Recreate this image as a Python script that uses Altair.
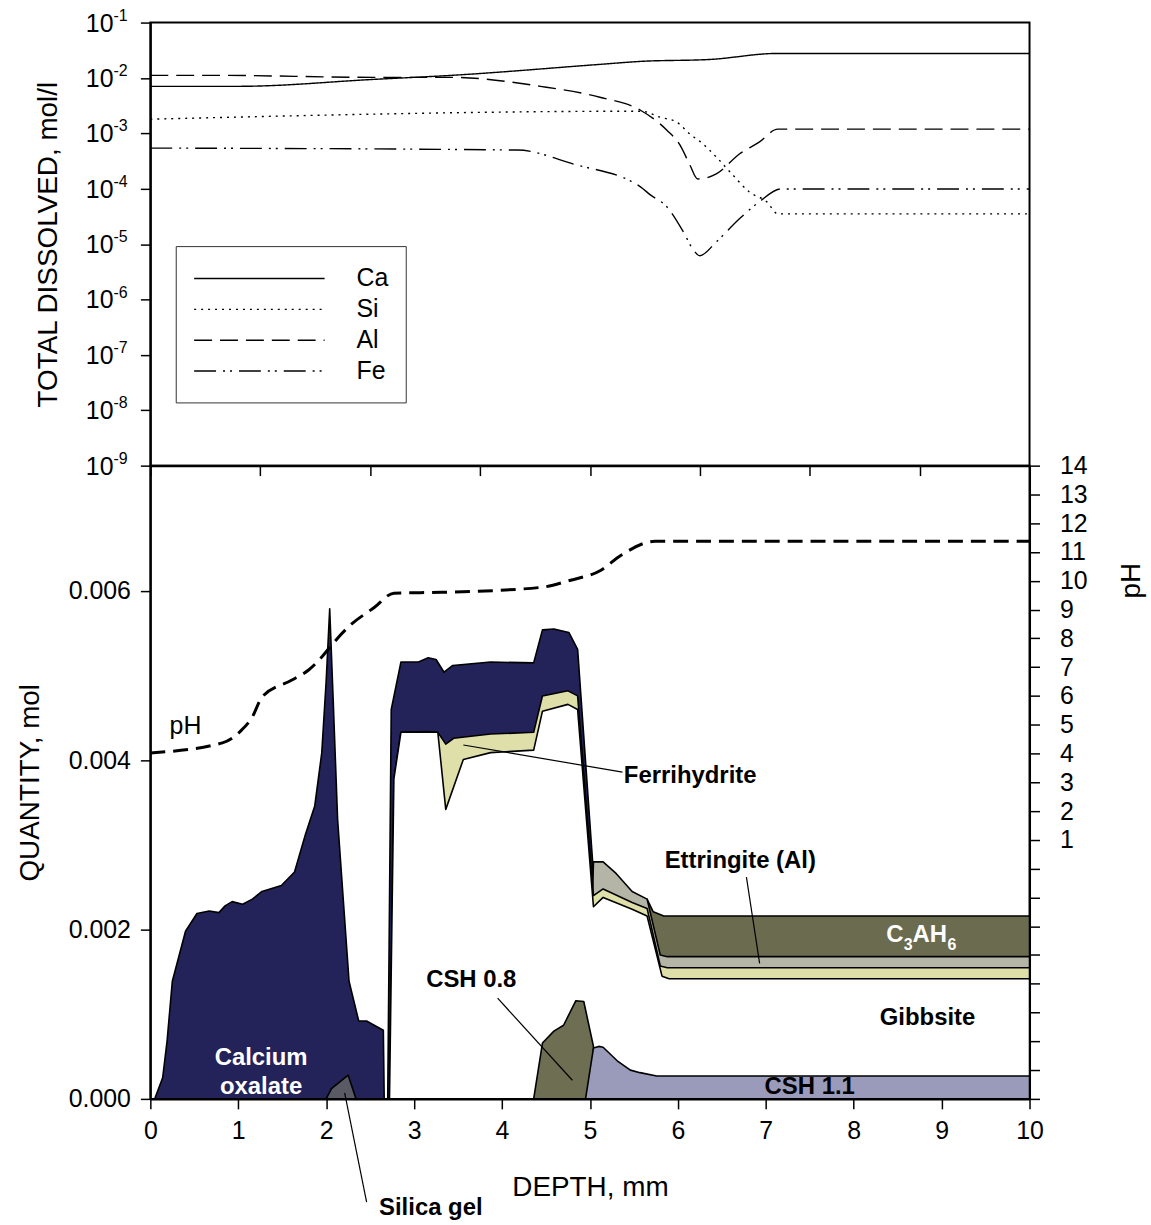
import altair as alt
import pandas as pd

FONT = "Liberation Sans"

# ---------------- top panel: total dissolved (mol/l) ----------------
SERIES = ["Ca", "Si", "Al", "Fe"]
DASHES = [[1, 0], [2, 5], [18, 8], [22, 7, 2, 5, 2, 7]]

CA_X = [0, 0.8, 2.04, 2.74, 4.09, 4.46, 5.1, 5.7, 8.0]
CA_Y = [0.00706, 0.00706, 0.00944, 0.01114, 0.01758, 0.0199, 0.02163, 0.02767, 0.02767]

SI_X = [0, 4.47, 4.64, 4.79, 4.91, 5.03, 5.15, 5.30, 5.45, 5.61, 5.71, 8.0]
SI_Y = [0.0018, 0.00251, 0.00195, 0.00159, 0.000968, 0.000640, 0.000373, 0.000177,
        0.0000875, 0.0000579, 0.0000352, 0.0000352]

AL_X = [0, 0.59, 2.04, 2.74, 3.55, 4.09, 4.46, 4.70, 4.82, 4.91, 4.98, 5.15, 5.36, 5.54, 5.71, 8.0]
AL_Y = [0.01114, 0.01114, 0.01026, 0.01026, 0.00706, 0.00448, 0.00261, 0.00114, 0.000614,
        0.000268, 0.000150, 0.000185, 0.000423, 0.000695, 0.00119, 0.00119]

FE_X = [0, 3.34, 3.85, 4.46, 4.55, 4.70, 4.85, 4.94, 5.0, 5.15, 5.36, 5.54, 5.74, 8.0]
FE_Y = [0.000542, 0.000499, 0.000279, 0.000108, 0.0000773, 0.0000471, 0.0000167,
        0.00000793, 0.00000618, 0.0000110, 0.0000286, 0.0000579, 0.0000991, 0.0000991]

DECADES = [10.0 ** -k for k in range(1, 10)]
EXPONENTS = ["-" + str(k) for k in range(1, 10)]

# ---------------- bottom panel: pH and mineral quantities ----------------
PH_X = [0, 0.82, 1.04, 1.16, 1.27, 1.61, 1.80, 1.95, 2.06, 2.25, 2.55, 2.77, 3.31, 4.44,
        4.78, 5.12, 5.35, 5.74, 10]
PH_Y = [4.02, 4.37, 4.82, 5.27, 5.96, 6.55, 6.90, 7.35, 7.76, 8.39, 9.08, 9.57, 9.60, 9.77,
        10.02, 10.36, 10.88, 11.37, 11.37]

# upper edge of each layer in the stacked quantity plot (mol)
OXALATE_X = [0.05, 0.14, 0.19, 0.25, 0.40, 0.53, 0.67, 0.78, 0.85, 0.93, 1.05, 1.16, 1.27,
             1.49, 1.64, 1.76, 1.87, 1.95, 2.00, 2.04, 2.08, 2.13, 2.26, 2.37, 2.46, 2.51,
             2.65, 2.66, 2.70, 2.74, 2.85, 3.05, 3.16, 3.25, 3.34, 3.44, 3.87, 4.36, 4.46,
             4.59, 4.76, 4.86, 5.03]
OXALATE_Y = [0, 0.00025, 0.00068, 0.00139, 0.00198, 0.00219, 0.00222, 0.00220, 0.00228,
             0.00233, 0.00230, 0.00236, 0.00245, 0.00252, 0.00268, 0.00311, 0.00346, 0.00409,
             0.00494, 0.00579, 0.00470, 0.00330, 0.00139, 0.00092, 0.00092, 0.00089, 0.00081,
             0, 0, 0.00460, 0.00516, 0.00516, 0.00521, 0.00519, 0.00504, 0.00512, 0.00516,
             0.00515, 0.00554, 0.00555, 0.00551, 0.00531, 0.00281]

C3AH6_X = [5.65, 5.72, 5.84, 10]
C3AH6_Y = [0.00236, 0.00221, 0.00216, 0.00216]

ETTR_X = [5.03, 5.04, 5.15, 5.30, 5.48, 5.65, 5.80, 5.88, 10]
ETTR_Y = [0.00240, 0.00280, 0.00280, 0.00266, 0.00245, 0.00236, 0.00170, 0.00168, 0.00168]

FERRI_X = [2.72, 2.77, 2.85, 3.16, 3.27, 3.36, 3.45, 3.87, 4.36, 4.46, 4.75, 4.86, 5.04,
           5.15, 5.48, 5.65, 5.80, 5.88, 10]
FERRI_Y = [0, 0.00378, 0.00433, 0.00434, 0.00433, 0.00419, 0.00426, 0.00431, 0.00433,
           0.00476, 0.00482, 0.00476, 0.00240, 0.00248, 0.00232, 0.00225, 0.00157, 0.00155,
           0.00155]

GIBB_X = [2.72, 2.77, 2.85, 3.27, 3.36, 3.56, 3.87, 4.36, 4.46, 4.75, 4.86, 5.04, 5.15,
          5.48, 5.65, 5.82, 5.90, 10]
GIBB_Y = [0, 0.00378, 0.00433, 0.00433, 0.00342, 0.00401, 0.00409, 0.00412, 0.00458,
          0.00466, 0.00460, 0.00227, 0.00238, 0.00224, 0.00216, 0.00145, 0.00142, 0.00142]

CSH08_X = [4.36, 4.46, 4.59, 4.70, 4.84, 4.93, 5.04]
CSH08_Y = [0, 0.00066, 0.00080, 0.00087, 0.00116, 0.00115, 0.00062]

CSH11_X = [4.95, 5.04, 5.10, 5.15, 5.31, 5.46, 5.57, 5.76, 10]
CSH11_Y = [0, 0.00060, 0.00062, 0.00061, 0.00045, 0.00034, 0.00031, 0.00027, 0.00027]

SILICA_X = [2.0, 2.06, 2.25, 2.34]
SILICA_Y = [0, 0.00012, 0.00028, 0]

LABELS = ["Calcium", "oxalate", "Ferrihydrite", "Ettringite (Al)", "CSH 0.8", "Silica gel",
          "Gibbsite", "CSH 1.1"]
LABEL_X = [1.26, 1.26, 6.14, 6.71, 3.65, 3.19, 8.84, 7.50]
LABEL_Y = [0.00048, 0.00014, 0.00381, 0.00281, 0.00140, -0.00129, 0.00096, 0.00014]
LABEL_COLOR = ["white", "white", "black", "black", "black", "black", "black", "black"]

# C3AH6 label: main letters and subscripts
C3AH6_PARTS = ["C", "3", "AH", "6"]
C3AH6_LABEL_X = 8.37
C3AH6_LABEL_Y = 0.00193

PTR_X1 = [3.56, 6.78, 3.95, 2.21]
PTR_Y1 = [0.00418, 0.00262, 0.00119, 0.00007]
PTR_X2 = [5.37, 6.93, 4.80, 2.46]
PTR_Y2 = [0.00386, 0.00160, 0.00022, -0.00122]

NAVY = "#23235a"
OLIVE = "#6b6b50"
GREY = "#b5b5a7"
YELLOW = "#dfdfaa"
LAVENDER = "#9a9abb"
SILICA = "#5a5a64"
CSH08C = "#6e6e53"

LABEL_SIZE = 25

# ================= top panel =================
top_df = pd.concat([
    pd.DataFrame({"depth": CA_X, "conc": CA_Y, "element": "Ca"}),
    pd.DataFrame({"depth": SI_X, "conc": SI_Y, "element": "Si"}),
    pd.DataFrame({"depth": AL_X, "conc": AL_Y, "element": "Al"}),
    pd.DataFrame({"depth": FE_X, "conc": FE_Y, "element": "Fe"}),
])

dash_scale = alt.Scale(domain=SERIES, range=DASHES)

x_top = alt.X("depth:Q", scale=alt.Scale(domain=[0, 8], nice=False, zero=False),
              axis=alt.Axis(values=list(range(9)), labels=False, title=None, tickSize=10))
Y_TOP_AXIS = alt.Axis(values=DECADES, labels=False,
                      title="TOTAL DISSOLVED, mol/l", titleX=-102, titleBaseline="middle",
                      tickSize=10)
Y_TOP_SCALE = alt.Scale(type="log", domain=[1e-9, 1e-1], nice=False)
y_top = alt.Y("conc:Q", scale=Y_TOP_SCALE, axis=Y_TOP_AXIS)

lines = alt.Chart(top_df).mark_line(color="black", strokeWidth=1.4, interpolate="monotone").encode(
    x=x_top, y=y_top, detail="element:N",
    strokeDash=alt.StrokeDash("element:N", scale=dash_scale, legend=None))

# tick labels 10^-k drawn as "10" plus a raised, smaller exponent
tick_df = pd.DataFrame({"conc": DECADES, "exp": EXPONENTS})
tick_base = alt.Chart(tick_df).mark_text(
    text="10", align="right", baseline="middle", fontSize=LABEL_SIZE, font=FONT,
    color="black", dy=1).encode(x=alt.value(-37), y=y_top)
tick_exp = alt.Chart(tick_df).mark_text(
    align="left", baseline="middle", fontSize=16, font=FONT, color="black", dy=-7).encode(
    x=alt.value(-37), y=y_top, text="exp:N")

leg_df = pd.DataFrame({"element": SERIES, "row": list(range(len(SERIES)))})
legend_box = alt.Chart(pd.DataFrame({"k": [0]})).mark_rect(
    fill="white", stroke="#333333", strokeWidth=1).encode(
    x=alt.value(26), x2=alt.value(257), y=alt.value(225), y2=alt.value(382))
legend_lines = alt.Chart(leg_df).transform_calculate(py="257 + 31*datum.row").mark_rule(
    color="black", strokeWidth=1.4).encode(
    x=alt.value(44), x2=alt.value(175), y=alt.Y("py:Q", scale=None, axis=None),
    strokeDash=alt.StrokeDash("element:N", scale=dash_scale, legend=None))
legend_text = alt.Chart(leg_df).transform_calculate(py="257 + 31*datum.row").mark_text(
    align="left", baseline="middle", fontSize=LABEL_SIZE, font=FONT, color="black").encode(
    x=alt.value(207), y=alt.Y("py:Q", scale=None, axis=None), text="element:N")

top = alt.layer(lines, tick_base, tick_exp, legend_box, legend_lines, legend_text).properties(
    width=883, height=445)

# ================= bottom panel =================
XS = alt.Scale(domain=[0, 10], nice=False, zero=False)
QS = alt.Scale(domain=[0, 0.00748], nice=False)
X_AXIS = alt.Axis(values=list(range(11)), title="DEPTH, mm", tickSize=10,
                  labelPadding=10, labelFlush=False, titleY=89, titleBaseline="middle")
Q_AXIS = alt.Axis(values=[0, 0.002, 0.004, 0.006], format=".3f",
                  title="QUANTITY, mol", titleX=-120, titleBaseline="middle",
                  tickSize=10, labelPadding=10)


def xb(field="depth"):
    return alt.X(f"{field}:Q", scale=XS, axis=X_AXIS)


def yb(field="q"):
    return alt.Y(f"{field}:Q", scale=QS, axis=Q_AXIS)


def area(xs, ys, color):
    df = pd.DataFrame({"depth": xs, "q": ys})
    return alt.Chart(df).mark_area(fill=color, stroke="black", strokeWidth=1.6, opacity=1,
                                   fillOpacity=1, strokeJoin="round").encode(x=xb(), y=yb())


areas = [
    area(OXALATE_X, OXALATE_Y, NAVY),
    area(C3AH6_X, C3AH6_Y, OLIVE),
    area(ETTR_X, ETTR_Y, GREY),
    area(FERRI_X, FERRI_Y, YELLOW),
    area(GIBB_X, GIBB_Y, "white"),
    area(CSH08_X, CSH08_Y, CSH08C),
    area(CSH11_X, CSH11_Y, LAVENDER),
    area(SILICA_X, SILICA_Y, SILICA),
]

ptr_df = pd.DataFrame({"x1": PTR_X1, "y1": PTR_Y1, "x2": PTR_X2, "y2": PTR_Y2})
pointers = alt.Chart(ptr_df).mark_rule(color="black", strokeWidth=1.2).encode(
    x=xb("x1"), x2="x2:Q", y=yb("y1"), y2="y2:Q")

lab_df = pd.DataFrame({"label": LABELS, "depth": LABEL_X, "q": LABEL_Y, "c": LABEL_COLOR})
labels = alt.Chart(lab_df).mark_text(fontSize=24, fontWeight="bold", font=FONT,
                                     align="center", baseline="middle").encode(
    x=xb(), y=yb(), text="label:N", color=alt.Color("c:N", scale=None))

c3_df = pd.DataFrame({"depth": [C3AH6_LABEL_X], "q": [C3AH6_LABEL_Y]})


def c3_part(txt, dx, dy, size):
    return alt.Chart(c3_df).mark_text(text=txt, fontSize=size, fontWeight="bold", font=FONT,
                                      align="left", baseline="middle", color="white",
                                      dx=dx, dy=dy).encode(x=xb(), y=yb())


c3_label = [
    c3_part(C3AH6_PARTS[0], 0, 0, 24),
    c3_part(C3AH6_PARTS[1], 17.5, 10, 16),
    c3_part(C3AH6_PARTS[2], 26.5, 0, 24),
    c3_part(C3AH6_PARTS[3], 61.5, 10, 16),
]

ph_text = alt.Chart(pd.DataFrame({"label": ["pH"], "depth": [0.40], "q": [0.00441]})).mark_text(
    fontSize=LABEL_SIZE, font=FONT, align="center", baseline="middle", color="black").encode(
    x=xb(), y=yb(), text="label:N")

left_group = alt.layer(*areas, pointers, labels, *c3_label, ph_text)

ph_df = pd.DataFrame({"depth": PH_X, "ph": PH_Y})
ph_line = alt.Chart(ph_df).mark_line(color="black", strokeWidth=3, strokeDash=[15, 8],
                                     interpolate="monotone").encode(
    x=xb(),
    y=alt.Y("ph:Q", scale=alt.Scale(domain=[-8, 14], nice=False, zero=False),
            axis=alt.Axis(orient="right", values=list(range(-8, 15)),
                          labelExpr="datum.value >= 1 ? datum.label : ''",
                          title="pH", tickSize=10, labelPadding=20, labelAlign="left",
                          titleAngle=270, titleX=102, titleY=115, titleBaseline="middle",
                          labelOverlap=False)))

bottom = alt.layer(left_group, ph_line).resolve_scale(y="independent").properties(
    width=883, height=636)

chart = alt.vconcat(top, bottom, spacing=0, bounds="flush").properties(
    padding={"left": 16, "top": 4, "right": 5, "bottom": 5}
).configure(font=FONT).configure_view(
    stroke="black", strokeWidth=2
).configure_axis(
    domainColor="black", domainWidth=2, tickColor="black", tickWidth=1.5,
    labelColor="black", labelFontSize=LABEL_SIZE, labelFont=FONT,
    titleFontSize=28, titleFontWeight="normal", titleColor="black", titleFont=FONT,
    grid=False
)

chart.save("out.html", embed_options={"renderer": "svg", "actions": False})
